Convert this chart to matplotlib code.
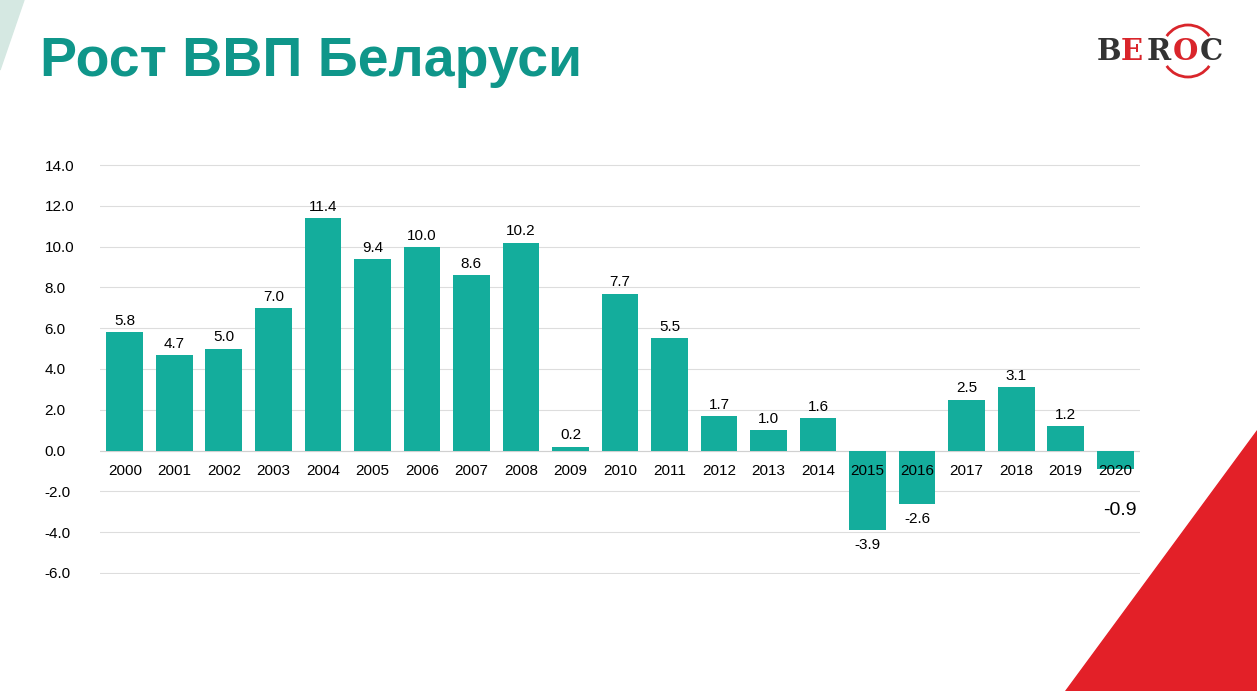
import matplotlib
matplotlib.use("Agg")
import matplotlib.pyplot as plt
from matplotlib.patches import Polygon, Arc

years = [str(y) for y in range(2000, 2021)]
growth = [5.8, 4.7, 5.0, 7.0, 11.4, 9.4, 10.0, 8.6, 10.2, 0.2, 7.7, 5.5, 1.7, 1.0, 1.6, -3.9, -2.6, 2.5, 3.1, 1.2, -0.9]
yticks = [14, 12, 10, 8, 6, 4, 2, 0, -2, -4, -6]

plt.rcParams['font.family'] = ['Liberation Sans', 'DejaVu Sans']
fig = plt.figure(figsize=(12.57, 6.91), dpi=100)
fig.patch.set_facecolor('white')

# decorative corners
fig.patches.append(Polygon([[0, 1], [24/1257, 1], [0, 1-70/691]], closed=True, transform=fig.transFigure, color='#d5e8e2'))
fig.patches.append(Polygon([[1, 1-430/691], [1, 0], [1065/1257, 0]], closed=True, transform=fig.transFigure, color='#e32028'))

fig.text(40/1257, 1-62/691, 'Рост ВВП Беларуси', fontsize=40, fontweight='bold', color='#0f968a', va='center')

# logo
for ch, col, dx in zip('BEROC', ['#333333', '#d9252b', '#333333', '#d9252b', '#333333'], [0, 24, 50, 76, 103]):
    fig.text((1097+dx)/1257, 1-51/691, ch, fontsize=21, family='DejaVu Serif', fontweight='bold', color=col, va='center')
lax = fig.add_axes([1150/1257, 1-80/691, 80/1257, 58/691])
lax.set_xlim(0, 80); lax.set_ylim(0, 58); lax.axis('off')
lax.add_patch(Arc((38, 29), 52, 52, theta1=35, theta2=145, color='#d9252b', lw=2))
lax.add_patch(Arc((38, 29), 52, 52, theta1=215, theta2=325, color='#d9252b', lw=2))

ax = fig.add_axes([100/1257, 1-574/691, 1040/1257, 410/691])
x = list(range(len(years)))
ax.bar(x, growth, width=0.74, color='#14ad9c', zorder=3)
ax.set_xlim(-0.5, len(years)-0.5)
ax.set_ylim(-6.05, 14.05)
ax.set_yticks(yticks)
ax.set_yticklabels([f'{v:.1f}' for v in yticks], fontsize=11)
ax.tick_params(axis='y', length=0, pad=40)
for lab in ax.get_yticklabels():
    lab.set_horizontalalignment('left')
ax.set_xticks([])
ax.grid(axis='y', color='#dddddd', lw=0.8, zorder=0)
for s in ax.spines.values():
    s.set_visible(False)
ax.axhline(0, color='#d0d0d0', lw=0.8, zorder=2)

for i, (yr, v) in enumerate(zip(years, growth)):
    ax.annotate(yr, (i, 0), xytext=(0, -15), textcoords='offset points', ha='center', va='center', fontsize=11, zorder=4)
    if i == len(years) - 1:
        ax.annotate(f'{v:.1f}', (i + 0.1, v), xytext=(0, -30), textcoords='offset points', ha='center', va='center', fontsize=14)
    elif v >= 0:
        ax.annotate(f'{v:.1f}', (i, v), xytext=(0, 8), textcoords='offset points', ha='center', va='center', fontsize=11)
    else:
        ax.annotate(f'{v:.1f}', (i, v), xytext=(0, -11), textcoords='offset points', ha='center', va='center', fontsize=11)

fig.savefig('out.png', dpi=100)
